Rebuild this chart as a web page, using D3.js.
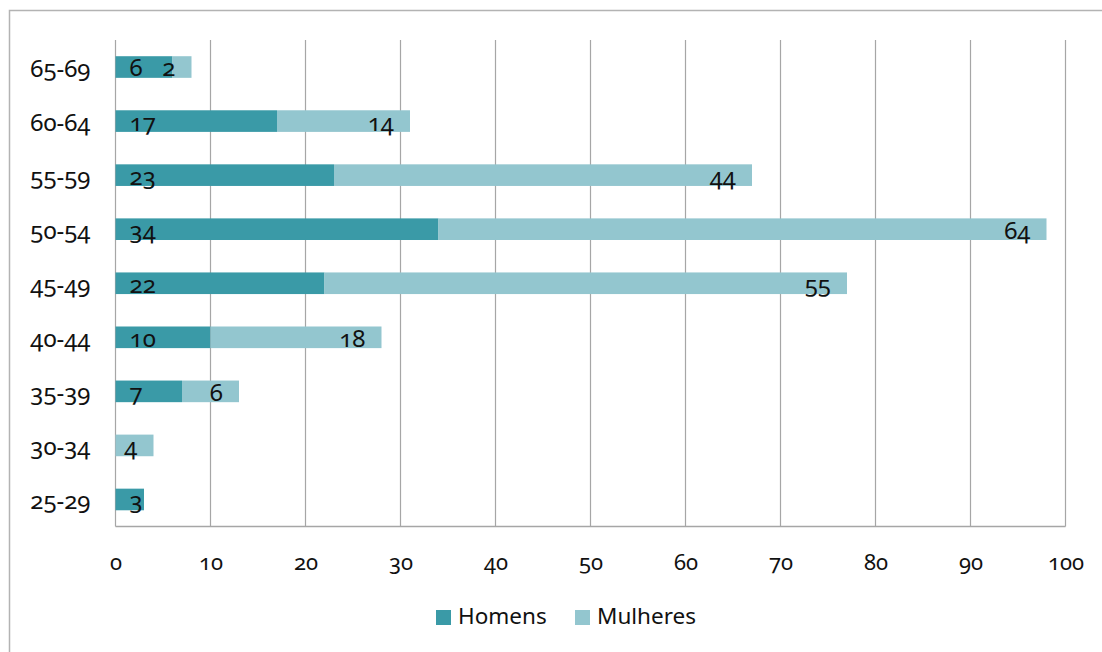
<!DOCTYPE html>
<html>
<head>
<meta charset="utf-8">
<script src="https://cdn.jsdelivr.net/npm/d3@7"></script>
<style>
  body { margin: 0; background: #fff; }
  svg text { font-family: "Noto Sans", "Open Sans", sans-serif; fill: #111; font-variant-numeric: oldstyle-nums; }
</style>
</head>
<body>
<div id="chart"></div>
<script>
// Age groups, top to bottom
const ageGroups = ['65-69', '60-64', '55-59', '50-54', '45-49', '40-44', '35-39', '30-34', '25-29'];
const homens   = [6, 17, 23, 34, 22, 10, 7, 0, 3];
const mulheres = [2, 14, 44, 64, 55, 18, 6, 4, 0];
const xTicks = [0, 10, 20, 30, 40, 50, 60, 70, 80, 90, 100];
const seriesNames = ['Homens', 'Mulheres'];
const seriesColors = ['#3a9aa7', '#93c6cf'];

const W = 1102, H = 652;
const margin = {top: 40, left: 115.5, right: 36.5, bottom: 125};
const width = W - margin.left - margin.right;
const height = H - margin.top - margin.bottom - 0.5;

const svg = d3.select('#chart').append('svg')
  .attr('width', W).attr('height', H);

// outer chart border
svg.append('rect')
  .attr('x', 9.5).attr('y', 10.5)
  .attr('width', 1200).attr('height', 1000)
  .attr('fill', 'none').attr('stroke', '#b3b3b3').attr('stroke-width', 1.5);

const g = svg.append('g').attr('transform', `translate(${margin.left},${margin.top})`);

const x = d3.scaleLinear().domain([0, 100]).range([0, width]);
const y = d3.scaleBand().domain(ageGroups).range([0, height]).paddingInner(0.6).paddingOuter(0.3);

// vertical gridlines
g.append('g').selectAll('line').data(xTicks).enter().append('line')
  .attr('x1', d => x(d)).attr('x2', d => x(d))
  .attr('y1', 0).attr('y2', height)
  .attr('stroke', '#a6a6a6').attr('stroke-width', 1.2);

// bottom axis line
g.append('line')
  .attr('x1', 0).attr('x2', width).attr('y1', height).attr('y2', height)
  .attr('stroke', '#a6a6a6').attr('stroke-width', 1.5);

// x tick labels
const xAxis = g.append('g')
  .attr('transform', `translate(0,${height})`)
  .call(d3.axisBottom(x).tickValues(xTicks).tickSize(0).tickPadding(28));
xAxis.select('.domain').remove();
xAxis.selectAll('text').style('font-size', '22px').attr('fill', '#111');

// y labels
const yAxis = g.append('g')
  .call(d3.axisLeft(y).tickSize(0).tickPadding(25));
yAxis.select('.domain').remove();
yAxis.selectAll('text').style('font-size', '24px').attr('fill', '#111').attr('dy', '0.4em');

const rows = ageGroups.map((a, i) => ({age: a, h: homens[i], m: mulheres[i]}));

// Homens bars
g.append('g').selectAll('rect').data(rows).enter().append('rect')
  .attr('x', x(0)).attr('y', d => y(d.age))
  .attr('width', d => x(d.h) - x(0)).attr('height', y.bandwidth())
  .attr('fill', seriesColors[0]);

// Mulheres bars
g.append('g').selectAll('rect').data(rows).enter().append('rect')
  .attr('x', d => x(d.h)).attr('y', d => y(d.age))
  .attr('width', d => x(d.h + d.m) - x(d.h)).attr('height', y.bandwidth())
  .attr('fill', seriesColors[1]);

// value labels
g.append('g').selectAll('text').data(rows.filter(d => d.h > 0)).enter().append('text')
  .attr('x', x(0) + 14).attr('y', d => y(d.age) + y.bandwidth() / 2 + 3)
  .attr('dominant-baseline', 'middle')
  .style('font-size', '24px')
  .text(d => d.h);

g.append('g').selectAll('text').data(rows.filter(d => d.m > 0)).enter().append('text')
  .attr('x', d => x(d.h + d.m) - 16).attr('y', d => y(d.age) + y.bandwidth() / 2 + 3)
  .attr('text-anchor', 'end')
  .attr('dominant-baseline', 'middle')
  .style('font-size', '24px')
  .text(d => d.m);

// legend
const legend = svg.append('g').attr('transform', 'translate(436,617)');
const legX = [0, 139];
seriesNames.forEach((name, i) => {
  const lg = legend.append('g').attr('transform', `translate(${legX[i]},0)`);
  lg.append('rect').attr('x', 0).attr('y', -7).attr('width', 15).attr('height', 15)
    .attr('fill', seriesColors[i]);
  lg.append('text').attr('x', 22).attr('y', 1)
    .attr('dominant-baseline', 'middle')
    .style('font-size', '22.5px').style('font-variant-numeric', 'normal')
    .text(name);
});
</script>
</body>
</html>
